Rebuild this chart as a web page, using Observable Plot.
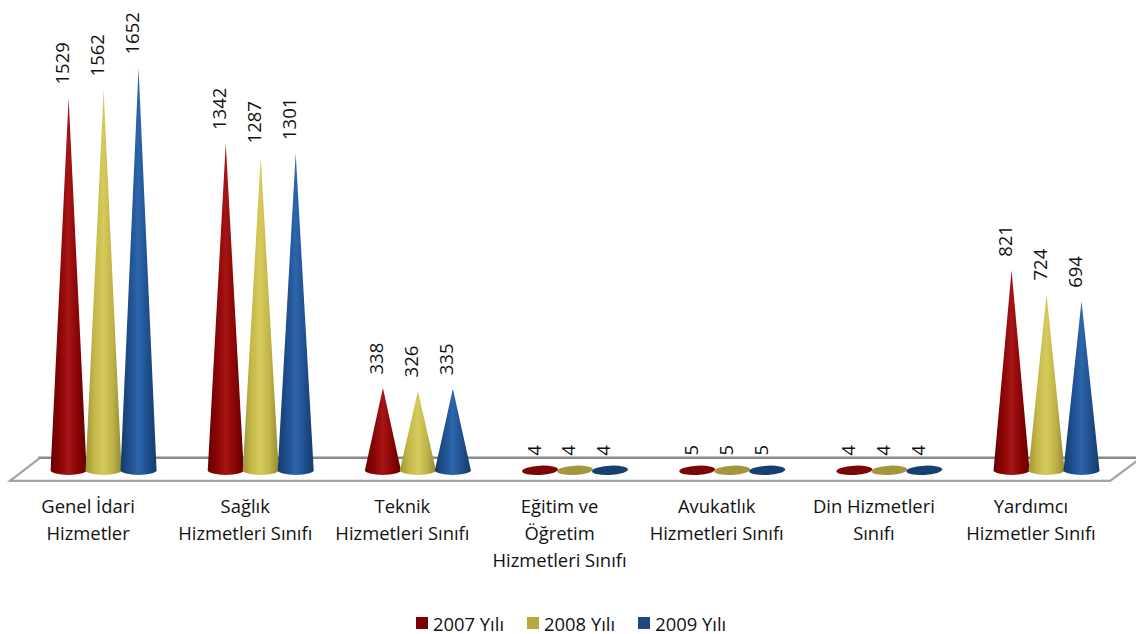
<!DOCTYPE html>
<html><head><meta charset="utf-8">
<style>
html,body{margin:0;padding:0;background:#fff;overflow:hidden}
#legend{height:22px;display:flex;font:18.4px "Open Sans",sans-serif;color:#111;padding-left:416px;align-items:center}
#legend span{display:inline-block}
#legend i{display:inline-block;width:12px;height:12px;margin-right:5px}
#legend div{display:flex;align-items:center;margin-right:23px}
svg{display:block}
</style>
<script src="https://cdn.jsdelivr.net/npm/d3@7"></script>
<script src="https://cdn.jsdelivr.net/npm/@observablehq/plot@0.6"></script>
</head><body>
<div id="chart"></div><div id="legend"></div>
<script>
const categories = ["Genel İdari\nHizmetler","Sağlık\nHizmetleri Sınıfı","Teknik\nHizmetleri Sınıfı","Eğitim ve\nÖğretim\nHizmetleri Sınıfı","Avukatlık\nHizmetleri Sınıfı","Din Hizmetleri\nSınıfı","Yardımcı\nHizmetler Sınıfı"];
const series = ["2007 Yılı","2008 Yılı","2009 Yılı"];
const values2007 = [1529,1342,338,4,5,4,821];
const values2008 = [1562,1287,326,4,5,4,724];
const values2009 = [1652,1301,335,4,5,4,694];
const seriesValues = [values2007,values2008,values2009];
const swatches = ["#7b0000","#b8a93c","#1f497d"];
const capFills = ["#7a0606","#a3963c","#173f70"];
const gradients = [
  ["#680000","#8a0404","#a51515","#8a0404","#620000"],
  ["#a09438","#c6b94a","#d6ca5c","#c0b348","#948a34"],
  ["#143a69","#1f4f8e","#2c66ab","#1f4f8e","#143a69"]
];
const rows = categories.flatMap((category,c)=>series.map((s,k)=>({category,series:s,k,value:seriesValues[k][c]})));

const coneHalf = 18, baseRy = 4.6;
function cones(index, scales, values){
  const g = d3.create("svg:g");
  const bw = scales.x.bandwidth();
  for (const i of index){
    const d = rows[i];
    const cx = values.x[i] + bw/2;
    const y0 = scales.y(0), tip = scales.y(d.value);
    const small = y0 - tip < baseRy;
    if (small){
      g.append("ellipse").attr("cx",cx).attr("cy",y0).attr("rx",coneHalf).attr("ry",baseRy)
        .attr("transform",`rotate(-3 ${cx} ${y0})`)
        .attr("fill",capFills[d.k]);
    } else {
      g.append("path")
        .attr("d",`M${cx-coneHalf},${y0}A${coneHalf},${baseRy} 0 0 0 ${cx+coneHalf},${y0}L${cx},${tip}Z`)
        .attr("fill",`url(#cone${d.k})`);
    }
  }
  return g.node();
}
let defsDone = false, floorDone = false;
function defs(){
  if (defsDone) return null; defsDone = true;
  const s = d3.create("svg:defs");
  gradients.forEach((stops,k)=>{
    const lg = s.append("linearGradient").attr("id","cone"+k);
    stops.forEach((c,j)=>lg.append("stop").attr("offset",j/(stops.length-1)).attr("stop-color",c));
  });
  return s.node();
}
function floor(index,{y},channels,{width,marginLeft,marginRight}){
  if (floorDone) return null; floorDone = true;
  const g = d3.create("svg:g").attr("fill","none");
  const span = (width-marginLeft-marginRight)*categories.length;
  const y0 = y(0), left = marginLeft-15, right = left+span, dX = 31, back = y0-12.5, front = y0+10.5;
  g.append("path").attr("d",`M${left+dX-3},${back}H${right+dX+3}`).attr("stroke","#8a8a8a").attr("stroke-width",2.6);
  g.append("path").attr("d",`M${left+dX-1},${back}L${left},${front}H${right}L${right+dX},${back}`).attr("stroke","#a3a3a3").attr("stroke-width",2.2);
  return g.node();
}
const chart = Plot.plot({
  width:1136, height:612,
  marginLeft:25, marginRight:10.9, marginTop:68, marginBottom:141.7,
  style:{fontFamily:"'Open Sans', sans-serif",background:"#fff",overflow:"hidden"},
  fx:{domain:categories,padding:0,label:null,round:false},
  x:{domain:series,axis:null,paddingInner:0,paddingOuter:0.747,round:false},
  y:{domain:[0,1652],axis:null},
  marks:[
    defs,
    floor,
    Plot.barY(rows,{fx:"category",x:"series",y:"value",render:cones}),
    Plot.text(rows,{fx:"category",x:"series",y:"value",text:d=>String(d.value),rotate:-90,textAnchor:"start",dx:-6,dy:-14,fontSize:18.5,fill:"#111"}),
    Plot.axisFx({anchor:"bottom",tickSize:0,tickPadding:23,dx:-16,fontSize:18.4,lineHeight:1.46,label:null,fill:"#111"})
  ]
});
document.getElementById("chart").append(chart);
const lg = d3.select("#legend");
series.forEach((s,k)=>{const d=lg.append("div");d.append("i").style("background",swatches[k]);d.append("span").text(s);});
</script>
</body></html>
